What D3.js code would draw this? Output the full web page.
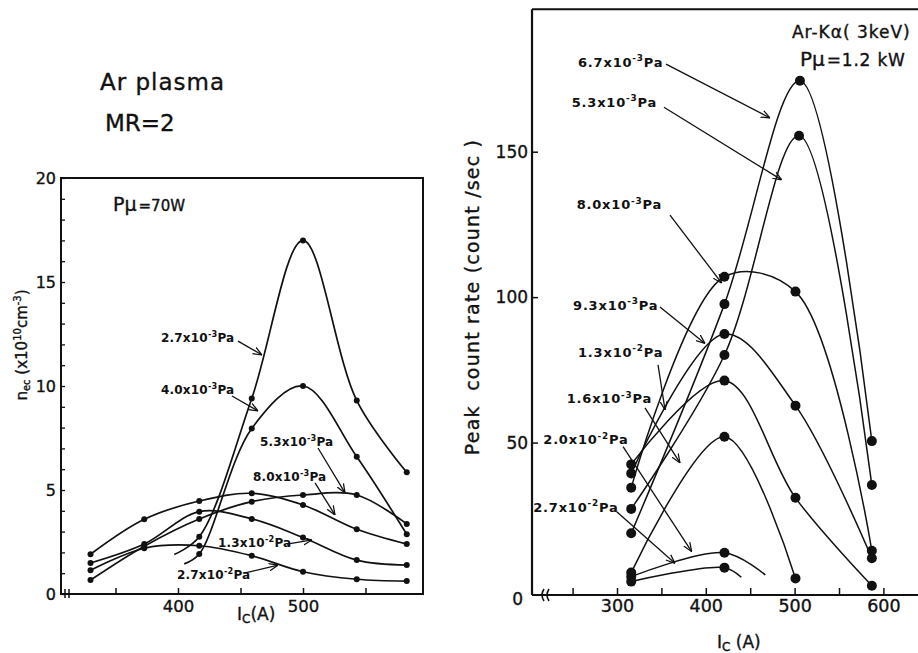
<!DOCTYPE html>
<html><head><meta charset="utf-8">
<script src="https://cdn.jsdelivr.net/npm/d3@7"></script>
<style>
body{margin:0;background:#fff}
svg text{font-family:"DejaVu Sans",sans-serif;fill:#111}
svg text.heavy{stroke:#111;stroke-width:0.35px}
</style>
</head><body>
<svg id="c" width="918" height="653"></svg>
<script>
// ===== LEFT PANEL DATA: n_ec (x10^10 cm^-3) vs Ic (A), Pμ=70W =====
const leftCurrents = [330, 373, 417, 459, 500, 543, 583];
const leftP27e3Currents = [397, 417, 459, 500, 543, 583];
const leftP27e3Values   = [1.9, 2.75, 9.4, 17.0, 9.3, 5.85];
const leftP40e3Currents = [405, 417, 459, 500, 543, 583];
const leftP40e3Values   = [1.45, 1.92, 7.96, 10.0, 6.6, 2.87];
const leftP53e3Values   = [0.67, 2.3, 3.61, 4.44, 4.76, 4.76, 3.37];
const leftP80e3Values   = [1.91, 3.59, 4.47, 4.84, 4.28, 3.11, 2.40];
const leftP13e2Values   = [1.49, 2.40, 3.96, 3.61, 2.72, 1.63, 1.39];
const leftP27e2Values   = [1.14, 2.2, 2.32, 1.84, 1.07, 0.71, 0.62];
const leftYTicks = [0, 5, 10, 15, 20];
const leftYMinorTicks = d3.range(0, 21, 1);
const leftXTicks = [350, 400, 450, 500, 550];
const leftXTickLabels = [400, 500];

// ===== RIGHT PANEL DATA: Peak count rate (count/sec) vs Ic (A), Ar-Kα, Pμ=1.2kW =====
const rightCurrents = [316, 421, 501, 587];
const rightP67e3Currents = [316, 421, 506, 587];
const rightP67e3Values   = [18.8, 97.6, 174.4, 50.5];
const rightP53e3Currents = [316, 421, 505, 587];
const rightP53e3Values   = [27.2, 80.1, 155.5, 35.4];
const rightP80e3Values   = [34.5, 107.0, 101.9, 12.8];
const rightP93e3Values   = [39.4, 87.3, 62.7, 10.2];
const rightP13e2Values   = [42.5, 71.3, 31.0, 0.8];
const rightP16e3Currents = [316, 421, 501];
const rightP16e3Values   = [5.3, 52.0, 3.3];
const rightP20e2Currents = [316, 421, 467];   // last point: curve end, no marker
const rightP20e2Values   = [3.9, 12.1, 4.5];
const rightP27e2Currents = [316, 421, 440];   // last point: curve end, no marker
const rightP27e2Values   = [2.2, 7.0, 3.7];
const rightYTicks = [50, 100, 150];
const rightXTicks = [250, 300, 350, 400, 450, 500, 550, 600];
const rightXTickLabels = [300, 400, 500, 600];

// ===== scales / layout =====
const svg = d3.select("#c");
const ink = "#111";
const xL = d3.scaleLinear().domain([306.4, 596]).range([61, 423]);
const yL = d3.scaleLinear().domain([0, 20]).range([594, 178]);
const xR = d3.scaleLinear().domain([300, 600]).range([617, 883.4]);
const yR = d3.scaleLinear().domain([0, 150]).range([588, 151.7]);
const rightXExtent = [204.3, 639];
const rightYExtent = [-2.4, 199];

const defs = svg.append("defs");
defs.append("marker").attr("id","arr").attr("viewBox","0 0 10 10")
  .attr("refX",10).attr("refY",5).attr("markerWidth",9).attr("markerHeight",9)
  .attr("markerUnits","userSpaceOnUse").attr("orient","auto")
  .append("path").attr("d","M0,1 L10,5 L0,9").attr("fill","none")
  .attr("stroke",ink).attr("stroke-width",1.4);

const zip = (a, b) => a.map((d, i) => [d, b[i]]);

function pressureLabel(g, x, y, mant, exp, size, ls) {
  const t = g.append("text").attr("x", x).attr("y", y).attr("dy","0.35em")
    .attr("font-size", size).attr("font-weight","bold").attr("letter-spacing", ls);
  t.append("tspan").text(mant + "x10");
  t.append("tspan").attr("font-size", size*0.68).attr("dy", -size*0.45).text(exp);
  t.append("tspan").attr("dy", size*0.45).text("Pa");
}
function arrow(g, x1, y1, x2, y2) {
  g.append("line").attr("x1",x1).attr("y1",y1).attr("x2",x2).attr("y2",y2)
    .attr("stroke",ink).attr("stroke-width",1.3).attr("marker-end","url(#arr)");
}

// ================= LEFT PANEL =================
const gL = svg.append("g");
const leftSeries = [
  {pts: zip(leftP27e3Currents, leftP27e3Values), firstDot: 1},
  {pts: zip(leftP40e3Currents, leftP40e3Values), firstDot: 1},
  {pts: zip(leftCurrents, leftP53e3Values), firstDot: 0},
  {pts: zip(leftCurrents, leftP80e3Values), firstDot: 0},
  {pts: zip(leftCurrents, leftP13e2Values), firstDot: 0},
  {pts: zip(leftCurrents, leftP27e2Values), firstDot: 0}
];
gL.append("rect").attr("x", xL.range()[0]).attr("y", yL.range()[1])
  .attr("width", xL.range()[1]-xL.range()[0]).attr("height", yL.range()[0]-yL.range()[1])
  .attr("fill","none").attr("stroke",ink).attr("stroke-width",2);
const yLax = gL.append("g").attr("transform",`translate(${xL.range()[0]},0)`)
  .call(d3.axisLeft(yL).tickValues(leftYMinorTicks).tickSizeInner(-4).tickSizeOuter(0).tickFormat(""));
yLax.select(".domain").remove();
yLax.selectAll("line").attr("stroke",ink).attr("stroke-width",1.3);
const yLlab = gL.append("g").attr("transform",`translate(${xL.range()[0]},0)`)
  .call(d3.axisLeft(yL).tickValues(leftYTicks).tickSizeInner(0).tickSizeOuter(0).tickPadding(5));
yLlab.select(".domain").remove();
yLlab.selectAll("text").attr("font-size",16).attr("fill",ink).attr("font-family","DejaVu Sans").attr("class","heavy");
const xLax = gL.append("g").attr("transform",`translate(0,${yL.range()[0]})`)
  .call(d3.axisBottom(xL).tickValues(leftXTicks).tickSizeInner(-6).tickSizeOuter(0).tickPadding(6)
    .tickFormat(d => leftXTickLabels.includes(d) ? d : ""));
xLax.select(".domain").remove();
xLax.selectAll("line").attr("stroke",ink).attr("stroke-width",1.5);
xLax.selectAll("text").attr("font-size",16.5).attr("fill",ink).attr("font-family","DejaVu Sans").attr("class","heavy");
[4, 8].forEach(dx => gL.append("line").attr("x1", xL.range()[0]+dx).attr("x2", xL.range()[0]+dx)
  .attr("y1", yL.range()[0]-5).attr("y2", yL.range()[0]+4).attr("stroke",ink).attr("stroke-width",1.5));
const lineL = d3.line().x(d => xL(d[0])).y(d => yL(d[1])).curve(d3.curveCatmullRom.alpha(0.5));
leftSeries.forEach(s => {
  gL.append("path").attr("d", lineL(s.pts)).attr("fill","none").attr("stroke",ink).attr("stroke-width",1.7);
  gL.selectAll(null).data(s.pts.slice(s.firstDot)).enter().append("circle")
    .attr("cx", d => xL(d[0])).attr("cy", d => yL(d[1])).attr("r", 3).attr("fill", ink);
});
const leftLabels = [
  {m:"2.7", e:"-3", at:[386.4,12.31], from:[448,12.16], to:[467.2,11.49]},
  {m:"4.0", e:"-3", at:[386.4,9.81],  from:[443.2,9.52], to:[464,8.80]},
  {m:"5.3", e:"-3", at:[465.6,7.31],  from:[512,7.02],  to:[533.6,4.86]},
  {m:"8.0", e:"-3", at:[460,5.63],    from:[509.6,5.34], to:[525.6,3.80]},
  {m:"1.3", e:"-2", at:[432,2.45],    from:[487.2,2.40], to:[507.2,2.60]},
  {m:"2.7", e:"-2", at:[399.2,0.91],  from:[453.6,1.01], to:[480,1.39]}
];
leftLabels.forEach(l => {
  pressureLabel(gL, xL(l.at[0]), yL(l.at[1]), l.m, l.e, 12, 0.2);
  arrow(gL, xL(l.from[0]), yL(l.from[1]), xL(l.to[0]), yL(l.to[1]));
});
const pL = gL.append("text").attr("x", xL(348)).attr("y", yL(18.7)).attr("dy","0.35em").attr("class","heavy");
pL.append("tspan").attr("font-size",19).text("Pμ");
pL.append("tspan").attr("font-size",15).attr("dx",2).text("=70W");
const ylt = gL.append("text").attr("transform","translate(27,345) rotate(-90)")
  .attr("text-anchor","middle").attr("font-size",15).attr("class","heavy");
ylt.append("tspan").text("n");
ylt.append("tspan").attr("font-size",10).attr("dy",3).text("ec");
ylt.append("tspan").attr("dy",-3).text(" (x10");
ylt.append("tspan").attr("font-size",10).attr("dy",-6).text("10");
ylt.append("tspan").attr("dy",6).text("cm");
ylt.append("tspan").attr("font-size",10).attr("dy",-6).text("-3");
ylt.append("tspan").attr("dy",6).text(")");
const xlt = gL.append("text").attr("x",237).attr("y",620).attr("font-size",17).attr("class","heavy");
xlt.append("tspan").text("I");
xlt.append("tspan").attr("font-size",12).attr("dy",3).text("C");
xlt.append("tspan").attr("dy",-3).text("(A)");
svg.append("text").attr("x",100).attr("y",90).attr("font-size",23).attr("letter-spacing",1).attr("class","heavy").text("Ar plasma");
svg.append("text").attr("x",105).attr("y",131).attr("font-size",23).attr("class","heavy").text("MR=2");

// ================= RIGHT PANEL =================
const gR = svg.append("g");
const rightSeries = [
  {pts: zip(rightP67e3Currents, rightP67e3Values), nDots: 4},
  {pts: zip(rightP53e3Currents, rightP53e3Values), nDots: 4},
  {pts: zip(rightCurrents, rightP80e3Values), nDots: 4},
  {pts: zip(rightCurrents, rightP93e3Values), nDots: 4},
  {pts: zip(rightCurrents, rightP13e2Values), nDots: 4},
  {pts: zip(rightP16e3Currents, rightP16e3Values), nDots: 3},
  {pts: zip(rightP20e2Currents, rightP20e2Values), nDots: 2},
  {pts: zip(rightP27e2Currents, rightP27e2Values), nDots: 2}
];
const xr0 = xR(rightXExtent[0]), xr1 = xR(rightXExtent[1]);
const yr0 = yR(rightYExtent[0]), yr1 = yR(rightYExtent[1]);
gR.append("line").attr("x1",xr0).attr("x2",xr0).attr("y1",yr1).attr("y2",yr0).attr("stroke",ink).attr("stroke-width",2.2);
gR.append("line").attr("x1",xr0).attr("x2",xr1).attr("y1",yr1).attr("y2",yr1).attr("stroke",ink).attr("stroke-width",2);
gR.append("line").attr("x1",xr0).attr("x2",xr1).attr("y1",yr0).attr("y2",yr0).attr("stroke",ink).attr("stroke-width",2.2);
const yRax = gR.append("g").attr("transform",`translate(${xr0},0)`)
  .call(d3.axisLeft(yR).tickValues(rightYTicks).tickSizeInner(-6).tickSizeOuter(0).tickPadding(4));
yRax.select(".domain").remove();
yRax.selectAll("line").attr("stroke",ink).attr("stroke-width",1.5);
yRax.selectAll("text").attr("font-size",17).attr("fill",ink).attr("font-family","DejaVu Sans").attr("class","heavy");
const xRax = gR.append("g").attr("transform",`translate(0,${yr0})`)
  .call(d3.axisBottom(xR).tickValues(rightXTicks).tickSizeInner(-7).tickSizeOuter(0).tickPadding(5)
    .tickFormat(d => rightXTickLabels.includes(d) ? d : ""));
xRax.select(".domain").remove();
xRax.selectAll("line").attr("stroke",ink).attr("stroke-width",1.5);
xRax.selectAll("text").attr("font-size",17.5).attr("fill",ink).attr("font-family","DejaVu Sans").attr("class","heavy");
gR.append("text").attr("x", xr0-9).attr("y", yr0+10).attr("text-anchor","end").attr("font-size",17).attr("class","heavy").text("0");
[10, 15].forEach(dx => gR.append("path")
  .attr("d", `M${xr0+dx+2},${yr0-6} Q${xr0+dx-2},${yr0} ${xr0+dx+2},${yr0+6}`)
  .attr("fill","none").attr("stroke",ink).attr("stroke-width",1.6));
const lineR = d3.line().x(d => xR(d[0])).y(d => yR(d[1])).curve(d3.curveCatmullRom.alpha(0.5));
rightSeries.forEach(s => {
  gR.append("path").attr("d", lineR(s.pts)).attr("fill","none").attr("stroke",ink).attr("stroke-width",1.5);
  gR.selectAll(null).data(s.pts.slice(0, s.nDots)).enter().append("circle")
    .attr("cx", d => xR(d[0])).attr("cy", d => yR(d[1])).attr("r", 5).attr("fill", ink);
});
const rightLabels = [
  {m:"6.7", e:"-3", at:[256.1,180.8], from:[355.2,180.1], to:[472.3,161.6]},
  {m:"5.3", e:"-3", at:[249.0,167.1], from:[352.9,165.3], to:[485.5,140.3]},
  {m:"8.0", e:"-3", at:[254.6,131.7], from:[359.7,128.2], to:[417.9,104.8]},
  {m:"9.3", e:"-3", at:[250.5,97.3],  from:[348.4,96.6],  to:[399.1,84.1]},
  {m:"1.3", e:"-2", at:[256.1,81.1],  from:[346.2,76.7],  to:[354.1,61.2]},
  {m:"1.6", e:"-3", at:[243.4,65.0],  from:[331.5,61.9],  to:[370.9,43.0]},
  {m:"2.0", e:"-2", at:[217.0,50.9],  from:[306.8,48.6],  to:[384.1,12.5]},
  {m:"2.7", e:"-2", at:[205.7,27.7],  from:[299.7,26.2],  to:[365.3,8.5]}
];
rightLabels.forEach(l => {
  pressureLabel(gR, xR(l.at[0]), yR(l.at[1]), l.m, l.e, 13, 0.8);
  arrow(gR, xR(l.from[0]), yR(l.from[1]), xR(l.to[0]), yR(l.to[1]));
});
gR.append("text").attr("x", xR(497)).attr("y", yR(191.1)).attr("dy","0.35em")
  .attr("font-size",17).attr("letter-spacing",1).attr("class","heavy").text("Ar-Kα( 3keV)");
const pR = gR.append("text").attr("x", xR(506)).attr("y", yR(181.5)).attr("dy","0.35em").attr("class","heavy");
pR.append("tspan").attr("font-size",20).text("Pμ");
pR.append("tspan").attr("font-size",17).attr("dx",2).attr("letter-spacing",0.8).text("=1.2 kW");
gR.append("text").attr("transform","translate(479,297) rotate(-90)").attr("text-anchor","middle")
  .attr("font-size",19).attr("letter-spacing",1.2).attr("xml:space","preserve").attr("class","heavy")
  .text("Peak  count rate (count /sec )");
const xrt = gR.append("text").attr("x",717).attr("y",648).attr("font-size",17).attr("class","heavy");
xrt.append("tspan").text("I");
xrt.append("tspan").attr("font-size",12).attr("dy",3).text("C");
xrt.append("tspan").attr("dy",-3).text(" (A)");
</script>
</body></html>
